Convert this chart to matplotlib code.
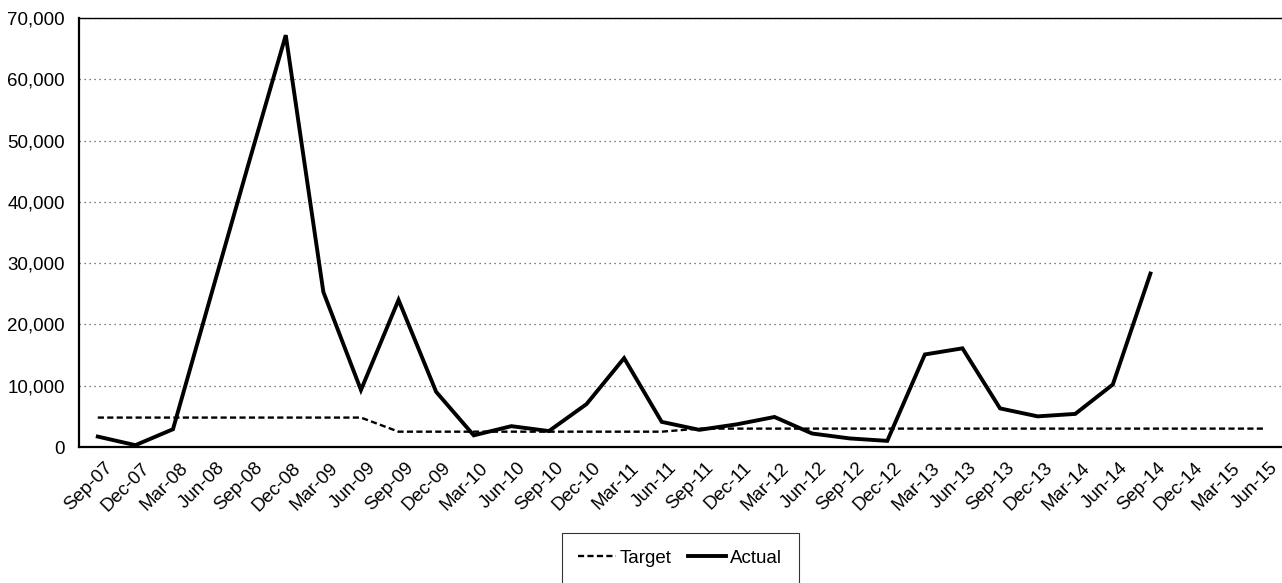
import numpy as np
import matplotlib
matplotlib.use('Agg')
import matplotlib.pyplot as plt
import matplotlib.transforms as mtransforms
from matplotlib.ticker import FuncFormatter, MultipleLocator

plt.rcParams['font.family'] = ['Liberation Sans', 'DejaVu Sans']
plt.rcParams['font.size'] = 13.5

quarters = ["Sep-07", "Dec-07", "Mar-08", "Jun-08", "Sep-08", "Dec-08", "Mar-09", "Jun-09",
            "Sep-09", "Dec-09", "Mar-10", "Jun-10", "Sep-10", "Dec-10", "Mar-11", "Jun-11",
            "Sep-11", "Dec-11", "Mar-12", "Jun-12", "Sep-12", "Dec-12", "Mar-13", "Jun-13",
            "Sep-13", "Dec-13", "Mar-14", "Jun-14", "Sep-14", "Dec-14", "Mar-15", "Jun-15"]

target = [4800] * 8 + [2500] * 8 + [3000] * 16

actual = [1700, 300, 2900, 24500, 46000, 67200, 25300, 9300,
          24000, 9000, 1900, 3400, 2600, 7000, 14500, 4100,
          2800, 3700, 4900, 2200, 1400, 1000, 15100, 16100,
          6300, 5000, 5400, 10200, 28300]

fig = plt.figure(figsize=(12.82, 5.83), dpi=100)
ax = fig.add_axes([79 / 1282, 1 - 447 / 583, 1 - 79 / 1282, (447 - 18) / 583])

x = np.arange(len(quarters))
ax.plot(x, target, color='black', lw=1.7, ls=(0, (2.6, 1.4)), label='Target')
ax.plot(x[:len(actual)], actual, color='black', lw=2.8, solid_joinstyle='miter', label='Actual')

ax.set_xlim(-0.5, len(quarters) - 0.5)
ax.set_ylim(0, 70000)
ax.yaxis.set_major_locator(MultipleLocator(10000))
ax.yaxis.set_major_formatter(FuncFormatter(lambda v, p: f"{int(v):,}"))
ax.grid(axis='y', color='#555555', ls=(0, (1, 3)), lw=0.9)
ax.set_axisbelow(True)

ax.set_xticks(x)
ax.set_xticklabels(quarters, rotation=45, ha='right', rotation_mode='anchor')
ax.tick_params(axis='x', length=0, pad=9)
ax.tick_params(axis='y', length=0, pad=10)
shift = mtransforms.ScaledTranslation(6 / 100, 0, fig.dpi_scale_trans)
for lbl in ax.get_xticklabels():
    lbl.set_transform(lbl.get_transform() + shift)

ax.spines['right'].set_visible(False)
ax.spines['top'].set_linewidth(1.0)
ax.spines['left'].set_linewidth(1.6)
ax.spines['bottom'].set_linewidth(1.6)

leg = ax.legend(loc='upper center', bbox_to_anchor=(680 / 1282, 1 - 533 / 583),
                bbox_transform=fig.transFigure, ncol=2, frameon=True, fancybox=False,
                edgecolor='black', handlelength=2.0, handletextpad=0.2, columnspacing=0.9,
                borderpad=0.9, borderaxespad=0, fontsize=13.5)
leg.get_frame().set_linewidth(0.8)

fig.savefig("out.png", dpi=100)
